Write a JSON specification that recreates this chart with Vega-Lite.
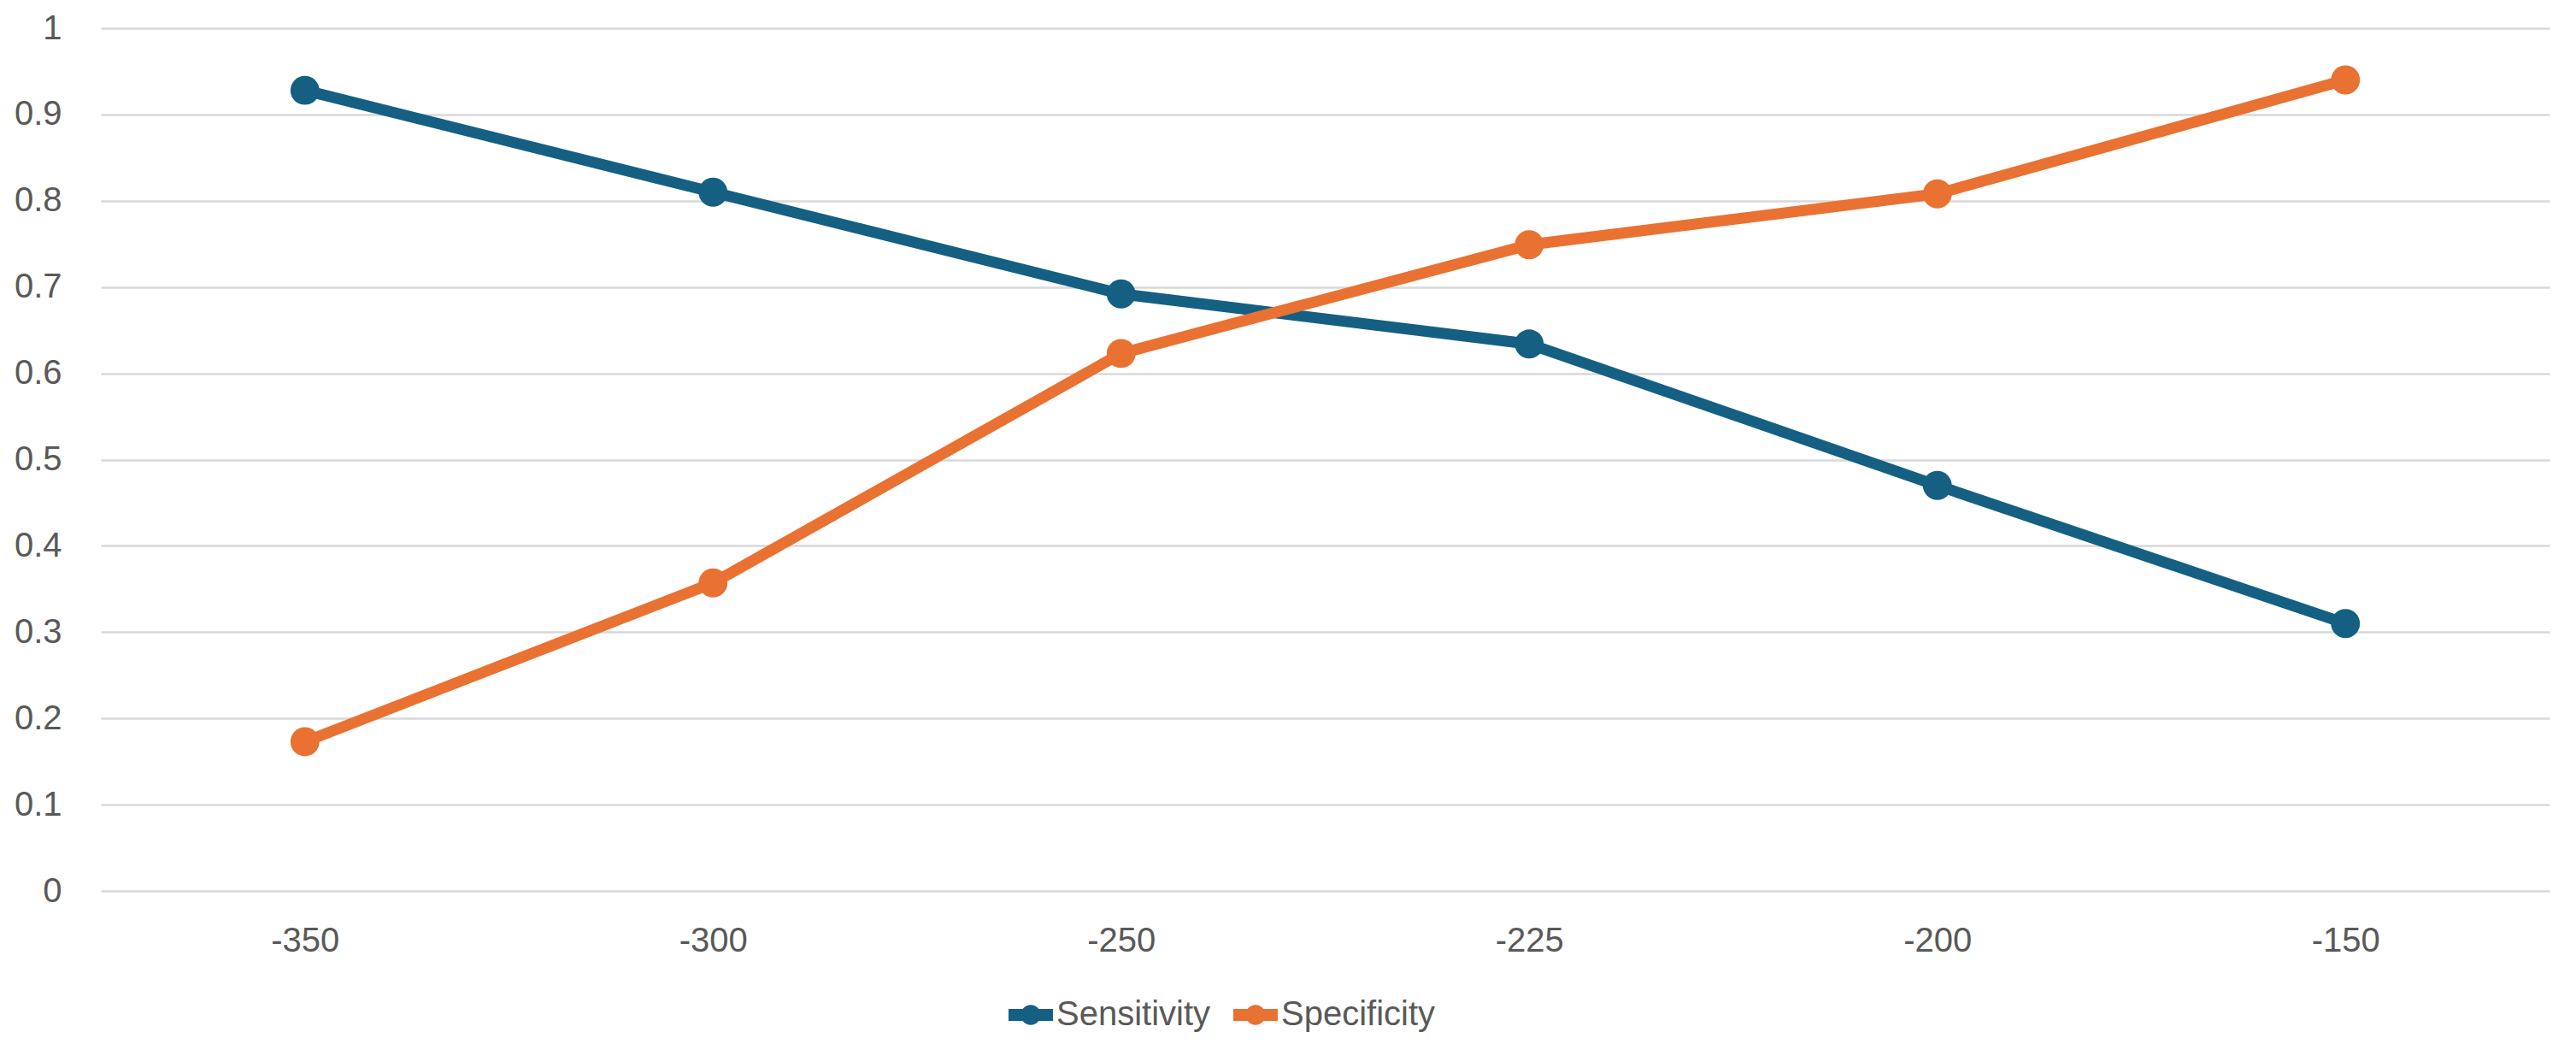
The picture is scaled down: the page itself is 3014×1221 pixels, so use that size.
{
  "$schema": "https://vega.github.io/schema/vega-lite/v6.json",
  "autosize": {"type": "none"},
  "padding": {"left": 118, "top": 33, "right": 31, "bottom": 179},
  "width": 2865,
  "height": 1009,
  "background": "white",
  "config": {
    "font": "Liberation Sans",
    "view": {"stroke": null},
    "axis": {
      "labelFont": "Liberation Sans",
      "labelFontSize": 40,
      "labelColor": "#595959",
      "domain": false,
      "ticks": false,
      "title": null
    },
    "axisY": {
      "gridColor": "#D9D9D9",
      "gridWidth": 2.5,
      "labelPadding": 46
    },
    "axisX": {"grid": false, "labelPadding": 38, "labelAngle": 0},
    "legend": {
      "labelFont": "Liberation Sans",
      "labelFontSize": 40,
      "labelColor": "#595959",
      "labelLimit": 600
    }
  },
  "data": {
    "values": [
      {"threshold": "-350", "metric": "Sensitivity", "value": 0.928},
      {"threshold": "-300", "metric": "Sensitivity", "value": 0.81},
      {"threshold": "-250", "metric": "Sensitivity", "value": 0.692},
      {"threshold": "-225", "metric": "Sensitivity", "value": 0.634},
      {"threshold": "-200", "metric": "Sensitivity", "value": 0.47},
      {"threshold": "-150", "metric": "Sensitivity", "value": 0.31},
      {"threshold": "-350", "metric": "Specificity", "value": 0.173},
      {"threshold": "-300", "metric": "Specificity", "value": 0.357},
      {"threshold": "-250", "metric": "Specificity", "value": 0.623},
      {"threshold": "-225", "metric": "Specificity", "value": 0.749},
      {"threshold": "-200", "metric": "Specificity", "value": 0.808},
      {"threshold": "-150", "metric": "Specificity", "value": 0.94}
    ]
  },
  "mark": {
    "type": "line",
    "strokeWidth": 13,
    "point": {"filled": true, "size": 1150, "opacity": 1}
  },
  "encoding": {
    "x": {
      "field": "threshold",
      "type": "ordinal",
      "sort": ["-350", "-300", "-250", "-225", "-200", "-150"],
      "scale": {"type": "point", "padding": 0.5}
    },
    "y": {
      "field": "value",
      "type": "quantitative",
      "scale": {"domain": [0, 1], "nice": false},
      "axis": {"values": [0, 0.1, 0.2, 0.3, 0.4, 0.5, 0.6, 0.7, 0.8, 0.9, 1], "format": "~g"}
    },
    "color": {
      "field": "metric",
      "type": "nominal",
      "scale": {"domain": ["Sensitivity", "Specificity"], "range": ["#156082", "#E97132"]},
      "legend": {
        "orient": "none",
        "direction": "horizontal",
        "legendX": 1062,
        "legendY": 1128,
        "title": null,
        "symbolType": "M-1,-0.27H1V0.27H-1Z M0,-0.45A0.45,0.45 0 1,1 0,0.45A0.45,0.45 0 1,1 0,-0.45Z",
        "symbolSize": 2700,
        "symbolStrokeWidth": 0,
        "symbolOpacity": 1,
        "labelOffset": 4,
        "columnPadding": 26
      }
    }
  }
}
